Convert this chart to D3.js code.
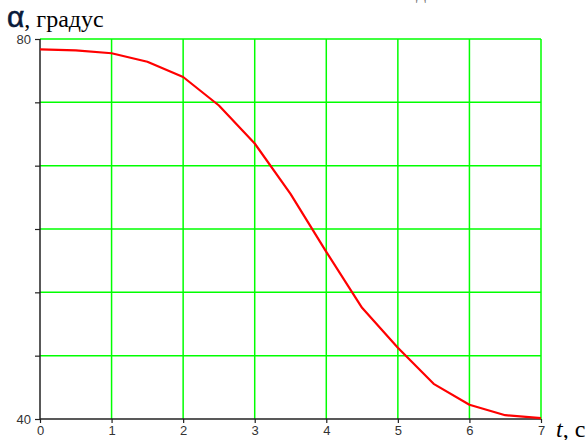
<!DOCTYPE html>
<html>
<head>
<meta charset="utf-8">
<script src="https://cdn.jsdelivr.net/npm/d3@7"></script>
<style>
    body { margin: 0; background: #fff; }
    svg { display: block; }
    .tick text { font-family: "Liberation Sans Narrow", "Liberation Sans", Arial, sans-serif; font-size: 13px; fill: #333; }
</style>
</head>
<body>
<svg></svg>
<script>
// time, s (every half second)
const times = [0, 0.5, 1, 1.5, 2, 2.5, 3, 3.5, 4, 4.5, 5, 5.5, 6, 6.5, 7]
// angle alpha, degrees
const alphas = [78.9, 78.8, 78.5, 77.6, 76.0, 73.0, 69.0, 63.7, 57.6, 51.7, 47.5, 43.7, 41.5, 40.4, 40.1]

const xTicks = [0, 1, 2, 3, 4, 5, 6, 7]
const yLabels = [40, 80]
const yGridCount = 6

const width = 588
const height = 440

const margin = { top: 39, right: 47, bottom: 21, left: 40 }
const innerWidth = width - margin.left - margin.right
const innerHeight = height - margin.top - margin.bottom

const xScale = d3.scaleLinear()
    .domain([0, 7])
    .range([0, innerWidth])

const yScale = d3.scaleLinear()
    .domain([40, 80])
    .range([innerHeight, 0])

// grid values for y: 40 .. 80 split in 6 parts
const yGrid = d3.range(yGridCount + 1).map(i => 40 + i * 40 / yGridCount)

const svg = d3.select('svg')
    .attr('width', width)
    .attr('height', height)

const g = svg.append('g')
    .attr('transform', `translate(${margin.left}, ${margin.top})`)

// green grid
g.selectAll('.hgrid')
    .data(yGrid.slice(1))
    .enter()
    .append('line')
        .attr('class', 'hgrid')
        .attr('x1', 0)
        .attr('x2', innerWidth)
        .attr('y1', d => yScale(d))
        .attr('y2', d => yScale(d))
        .style('stroke', '#00ff00')
        .style('stroke-width', 1.5)

g.selectAll('.vgrid')
    .data(xTicks.slice(1))
    .enter()
    .append('line')
        .attr('class', 'vgrid')
        .attr('x1', d => xScale(d))
        .attr('x2', d => xScale(d))
        .attr('y1', 0)
        .attr('y2', innerHeight)
        .style('stroke', '#00ff00')
        .style('stroke-width', 1.5)

// axes
const xAxis = d3.axisBottom(xScale)
    .tickValues(xTicks)
    .tickSize(4)
    .tickPadding(3)
    .tickFormat(d3.format('d'))

const yAxis = d3.axisLeft(yScale)
    .tickValues(yGrid)
    .tickSize(5)
    .tickPadding(4)
    .tickFormat(d => yLabels.includes(d) ? d : '')

const xAxisG = g.append('g')
    .attr('transform', `translate(0, ${innerHeight})`)
    .call(xAxis)

const yAxisG = g.append('g').call(yAxis)

xAxisG.select('.domain').attr('d', `M0,0H${innerWidth}`).style('stroke', '#222').style('stroke-width', 1.5)
yAxisG.select('.domain').attr('d', `M0,0V${innerHeight}`).style('stroke', '#222').style('stroke-width', 1.5)
g.selectAll('.tick line').style('stroke', '#222').style('stroke-width', 1.2)

// red curve
const line = d3.line()
    .x((d, i) => xScale(times[i]))
    .y(d => yScale(d))

g.append('path')
    .datum(alphas)
    .attr('d', line)
    .style('fill', 'none')
    .style('stroke', '#ff0000')
    .style('stroke-width', 2.2)
    .style('stroke-linejoin', 'round')

// axis titles
const yTitle = svg.append('text')
    .attr('x', 7)
    .attr('y', 27)
    .style('font-family', '"Liberation Serif", "Times New Roman", serif')
    .style('font-size', '24px')
    .style('fill', '#000')

yTitle.append('tspan')
    .style('font-family', '"Liberation Sans", Arial, sans-serif')
    .style('font-size', '30px')
    .style('fill', '#0a1a3a')
    .style('stroke', '#0a1a3a')
    .style('stroke-width', 0.6)
    .text('α')

yTitle.append('tspan').text(', градус')

const xTitle = svg.append('text')
    .attr('x', 556)
    .attr('y', 437)
    .style('font-family', '"Liberation Serif", "Times New Roman", serif')
    .style('font-size', '24px')
    .style('fill', '#000')

xTitle.append('tspan').style('font-style', 'italic').text('t')
xTitle.append('tspan').text(', с')

// cut-off caption above the chart, only its lowest strokes show
svg.append('text')
    .attr('x', 416)
    .attr('y', -2)
    .style('font-family', '"Liberation Serif", serif')
    .style('font-size', '20px')
    .style('fill', '#777')
    .text('д')
</script>
</body>
</html>
